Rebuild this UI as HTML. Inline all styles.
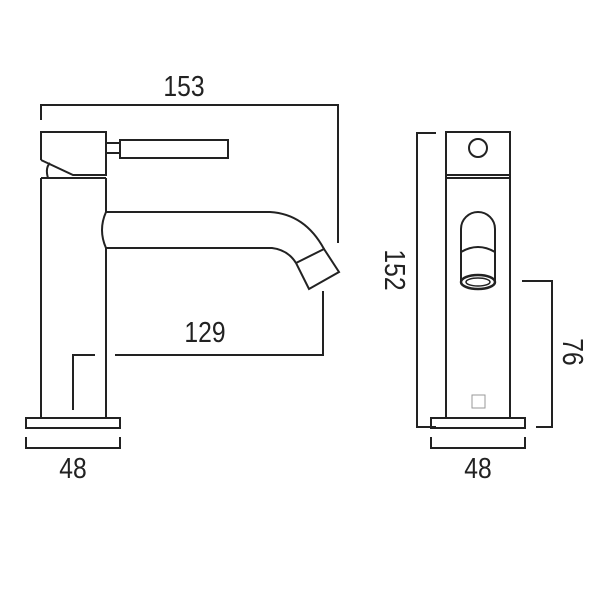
<!DOCTYPE html>
<html><head><style>body{margin:0;background:#fff}svg{display:block}</style></head><body>
<svg width="600" height="600" viewBox="0 0 600 600" xmlns="http://www.w3.org/2000/svg">
<g fill="none" stroke="#222" stroke-width="2">
<!-- 153 dim -->
<polyline points="41,120 41,105 338,105 338,243"/>
<!-- handle -->
<polyline points="41,160 41,132 106,132 106,175 73,175 41,160"/>
<path d="M48,178 Q45,168 50,163"/>
<line x1="73" y1="175" x2="106" y2="175"/>
<rect x="106" y="143" width="14" height="10"/>
<rect x="120" y="140" width="108" height="18"/>
<!-- body -->
<line x1="41" y1="178" x2="106" y2="178"/>
<line x1="41" y1="178" x2="41" y2="418"/>
<line x1="106" y1="178" x2="106" y2="212"/>
<line x1="106" y1="248" x2="106" y2="418"/>
<!-- spout -->
<path d="M106,212 Q98,230 106,248"/>
<path d="M106,212 L270,212 Q305,214 324,249"/>
<path d="M106,248 L272,248 Q288,250 296,263"/>
<polygon points="296,263 324,249 339,272 309,289"/>
<!-- 129 dim -->
<polyline points="73,410 73,355 95,355"/>
<polyline points="115,355 323,355 323,291"/>
<!-- base -->
<rect x="26" y="418" width="94" height="10"/>
<polyline points="26,437 26,448 120,448 120,437"/>
<!-- right view -->
<polyline points="436,133 417,133 417,427 436,427"/>
<rect x="446" y="132" width="64" height="43"/>
<circle cx="478" cy="148" r="9"/>
<line x1="446" y1="178" x2="510" y2="178"/>
<line x1="446" y1="175" x2="446" y2="418"/>
<line x1="510" y1="175" x2="510" y2="418"/>
<path d="M461,283 L461,229 A17,17 0 0 1 495,229 L495,283"/>
<path d="M461,252 Q478,242 495,252"/>
<ellipse cx="478" cy="282" rx="17" ry="7" stroke-width="2.5"/>
<ellipse cx="478" cy="282" rx="12" ry="4" stroke-width="1.5"/>
<rect x="472" y="395" width="13" height="13" stroke="#999" stroke-width="1"/>
<rect x="431" y="418" width="94" height="10"/>
<polyline points="431,437 431,448 525,448 525,437"/>
<polyline points="522,281 552,281 552,427 536,427"/>
</g>
<g font-family="'Liberation Sans',sans-serif" font-size="29" fill="#222" text-anchor="middle">
<text x="184" y="96" transform="translate(184 0) scale(0.85 1) translate(-184 0)">153</text>
<text x="205" y="342" transform="translate(205 0) scale(0.85 1) translate(-205 0)">129</text>
<text x="73" y="478" transform="translate(73 0) scale(0.85 1) translate(-73 0)">48</text>
<text x="478" y="478" transform="translate(478 0) scale(0.85 1) translate(-478 0)">48</text>
<text transform="translate(385 270) rotate(90) scale(0.85 1)">152</text>
<text transform="translate(563 352) rotate(90) scale(0.85 1)">76</text>
</g>
</svg>
</body></html>
